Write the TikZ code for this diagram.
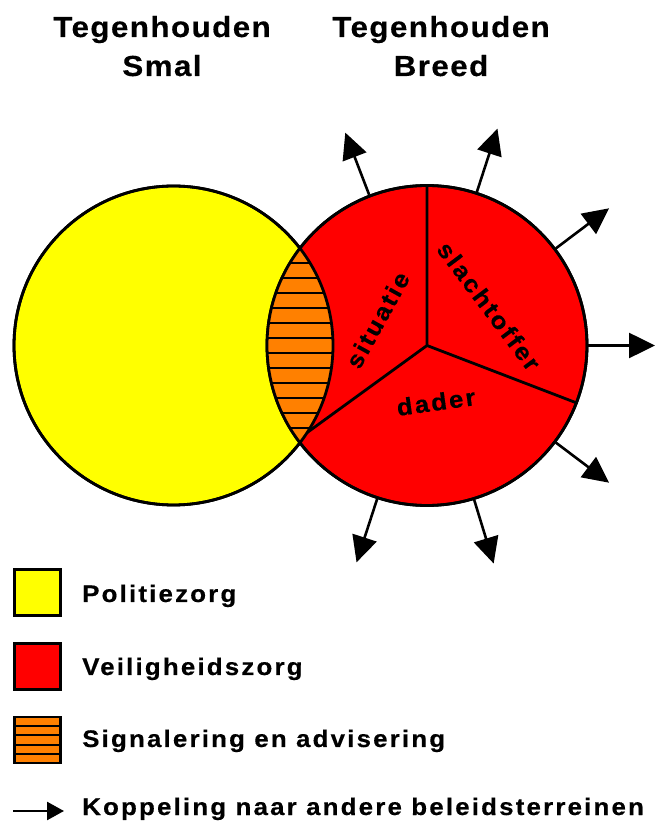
\documentclass[tikz,border=0pt]{standalone}
\usepackage{fontspec}
\setmainfont{Liberation Sans}
\newfontfamily\kopfont[LetterSpace=5,FakeStretch=1.08,FakeBold=0.4]{Liberation Sans}
\newfontfamily\legfont[LetterSpace=9,FakeStretch=1.08,FakeBold=0.4]{Liberation Sans}
\usetikzlibrary{arrows.meta}
\definecolor{polgeel}{RGB}{255,255,0}
\definecolor{veilrood}{RGB}{255,0,0}
\definecolor{signoranje}{RGB}{255,128,0}

\begin{document}
\begin{tikzpicture}[x=1pt, y=1pt,
  kop/.style={font=\kopfont\bfseries\fontsize{29}{35}\selectfont, anchor=base, inner sep=0pt},
  legtekst/.style={font=\legfont\bfseries\fontsize{24}{29}\selectfont, anchor=base west, inner sep=0pt},
  sector/.style={font=\legfont\bfseries\fontsize{24}{29}\selectfont, inner sep=0pt},
  rand/.style={line width=2.8pt},
  hatch/.style={line width=1.8pt},
  bol/.style={circle, draw, rand, inner sep=0pt},
  legvak/.style={draw, rand, minimum size=46pt, inner sep=0pt},
  koppel/.style={line width=2.6pt, -{Triangle[length=26pt,width=25pt]}}]
\fill[white] (0,0) rectangle (656,823);
\useasboundingbox (0,0) rectangle (656,823);

% titels
\node[kop] (smal1) at (162,786) {Tegenhouden};
\node[kop] (smal2) at (162,747) {Smal};
\node[kop] (breed1) at (441,786) {Tegenhouden};
\node[kop] (breed2) at (441,747) {Breed};

% de twee cirkels
\coordinate (pc) at (173.5,477.5);
\coordinate (vc) at (427,477.5);
\node[bol, fill=polgeel, minimum size=319pt] (pol) at (pc) {};
\node[bol, fill=veilrood, minimum size=320pt] (veil) at (vc) {};
\begin{scope}
  \clip (vc) circle (160);
  \draw[rand] (vc) -- ++(90:170) (vc) -- ++(-21:170) (vc) -- ++(216:170);
\end{scope}

% overlap: signalering en advisering
\begin{scope}
  \clip (pc) circle (159.5);
  \clip (vc) circle (160);
  \fill[signoranje] (vc) circle (160);
  \foreach \i in {1,...,12}
    \draw[hatch] (250,380.2+\i*14.97) -- (350,380.2+\i*14.97);
\end{scope}
\draw[rand] (pc) circle (159.5);
\draw[rand] (vc) circle (160);

\node[sector, rotate=61] (sit) at (377.5,503) {situatie};
\node[sector, rotate=-53] (slacht) at (489,517) {slachtoffer};
\node[sector, rotate=8] (dad) at (436,421) {dader};

% koppelingen
\path (vc) ++(111:228) coordinate (k1) (vc) ++(72:228) coordinate (k2)
      (vc) ++(37:228) coordinate (k3) (vc) ++(0:228) coordinate (k4)
      (vc) ++(-37:228) coordinate (k5) (vc) ++(-73:228) coordinate (k6)
      (vc) ++(-108:228) coordinate (k7);
\draw[koppel] (veil.111) -- (k1);
\draw[koppel] (veil.72) -- (k2);
\draw[koppel] (veil.37) -- (k3);
\draw[koppel] (veil.0) -- (k4);
\draw[koppel] (veil.-37) -- (k5);
\draw[koppel] (veil.-73) -- (k6);
\draw[koppel] (veil.-108) -- (k7);

% legenda
\node[legvak, fill=polgeel] (lpol) at (37.5,230.5) {};
\node[legvak, fill=veilrood] (lveil) at (37.5,156.5) {};
\node[legvak, fill=signoranje] (lsign) at (37.5,83) {};
\foreach \dy in {-14,-4.7,4.7,14}
  \draw[hatch] ([yshift=\dy pt]lsign.west) -- ([yshift=\dy pt]lsign.east);
\node[legtekst] (tpol) at (82,221) {Politiezorg};
\node[legtekst] (tveil) at (82,148) {Veiligheidszorg};
\node[legtekst] (tsign) at (82,76) {Signalering en advisering};
\node[legtekst] (tkop) at (82,8) {Koppeling naar andere beleidsterreinen};
\coordinate (ka) at (13,12);
\coordinate (kb) at (64,12);
\draw[line width=2.6pt, -{Triangle[length=17pt,width=18pt]}] (ka) -- (kb);
\end{tikzpicture}
\end{document}
